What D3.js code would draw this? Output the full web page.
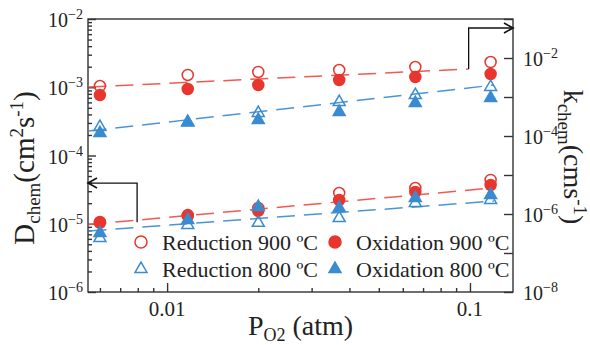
<!DOCTYPE html>
<html>
<head>
<meta charset="utf-8">
<script src="https://cdn.jsdelivr.net/npm/d3@7"></script>
<style>
  body { margin: 0; background: #fff; }
  .axis path, .axis line { stroke: #333; stroke-width: 1.4; }
  text, tspan { font-family: 'Liberation Serif', 'Times New Roman', Times, serif; }
</style>
</head>
<body>
<svg id="chart" width="590" height="345"></svg>
<script>
// oxygen partial pressure (atm)
var pO2 = [0.006, 0.0117, 0.02, 0.037, 0.066, 0.117];

// k_chem (cm s-1), right axis
var kRed900 = [1.91e-3, 3.67e-3, 4.38e-3, 4.92e-3, 5.88e-3, 7.88e-3];
var kOx900  = [1.12e-3, 1.60e-3, 2.03e-3, 2.73e-3, 3.26e-3, 3.89e-3];
var kRed800 = [1.70e-4, 2.29e-4, 3.89e-4, 7.45e-4, 1.12e-3, 1.80e-3];
var kOx800  = [1.19e-4, 2.20e-4, 2.57e-4, 4.12e-4, 7.02e-4, 9.42e-4];

// D_chem (cm2 s-1), left axis
var dRed900 = [1.06e-5, 1.34e-5, 1.70e-5, 2.82e-5, 3.34e-5, 4.38e-5];
var dOx900  = [1.03e-5, 1.30e-5, 1.54e-5, 2.23e-5, 2.92e-5, 3.70e-5];
var dRed800 = [6.18e-6, 9.60e-6, 1.03e-5, 1.21e-5, 2.01e-5, 2.23e-5];
var dOx800  = [7.31e-6, 1.13e-5, 1.76e-5, 1.70e-5, 2.38e-5, 2.64e-5];

// dashed fit lines (end points)
var fitK900P = [0.0055, 0.099], fitK900 = [1.80e-3, 5.22e-3];
var fitK800P = [0.0055, 0.12],  fitK800 = [1.34e-4, 2.03e-3];
var fitD900P = [0.0055, 0.122], fitD900 = [9.75e-6, 3.38e-5];
var fitD800P = [0.0055, 0.12],  fitD800 = [7.83e-6, 2.15e-5];

// axis ticks
var xMajor = [0.01, 0.1], xMajorLabels = ["0.01", "0.1"];
var yLeftExp = [-2, -3, -4, -5, -6];
var yRightExp = [-1, -2, -3, -4, -5, -6, -7, -8];
var yRightLabelExp = [-2, -4, -6, -8];

var legendLabels = ["Reduction 900 \u00baC", "Oxidation 900 \u00baC", "Reduction 800 \u00baC", "Oxidation 800 \u00baC"];

var red = "#e8362e", blue = "#3a8bd0", redLine = "#ef5b52", blueLine = "#4a95d3";
var serifFont = "'Liberation Serif'";

var svg = d3.select("#chart"),
	margin = {top: 19, right: 77, bottom: 53, left: 88},
	width = +svg.attr("width") - margin.left - margin.right,
	height = +svg.attr("height") - margin.top - margin.bottom,
	g = svg.append("g").attr("transform", "translate(" + margin.left + "," + margin.top + ")");

var x = d3.scaleLog().domain([0.00548, 0.1387]).range([0, width]);
var yL = d3.scaleLog().domain([1e-6, 1e-2]).range([height, 0]);
var yR = d3.scaleLog().domain([1e-8, 1e-1]).range([height, 0]);

// minor ticks
var xMinor = [];
[0.001, 0.01, 0.1].forEach(function(b) {
	for (var m = 2; m <= 9; m++) {
		var v = b * m;
		if (v > x.domain()[0] && v < x.domain()[1]) xMinor.push(v);
	}
});
var yLMinor = [];
[1e-6, 1e-5, 1e-4, 1e-3].forEach(function(b) {
	for (var m = 2; m <= 9; m++) yLMinor.push(b * m);
});

// frame
g.append("rect")
	.attr("width", width).attr("height", height)
	.attr("fill", "none").attr("stroke", "#333").attr("stroke-width", 1.4);

g.append("g").attr("class", "axis")
	.attr("transform", "translate(0," + height + ")")
	.call(d3.axisBottom(x).tickValues(xMajor).tickSize(-9).tickFormat(""));
g.append("g").attr("class", "axis")
	.attr("transform", "translate(0," + height + ")")
	.call(d3.axisBottom(x).tickValues(xMinor).tickSize(-4).tickFormat(""));
g.append("g").attr("class", "axis")
	.call(d3.axisLeft(yL).tickValues(yLeftExp.map(function(e) { return Math.pow(10, e); })).tickSize(-8).tickFormat(""));
g.append("g").attr("class", "axis")
	.call(d3.axisLeft(yL).tickValues(yLMinor).tickSize(-4).tickFormat(""));
g.append("g").attr("class", "axis")
	.attr("transform", "translate(" + width + ",0)")
	.call(d3.axisRight(yR).tickValues(yRightExp.map(function(e) { return Math.pow(10, e); })).tickSize(-9).tickFormat(""));
g.selectAll(".axis .domain").remove();
g.selectAll(".axis text").remove();

function addText(parent) {
	return parent.append("text")
		.attr("font-family", serifFont)
		.attr("fill", "#222");
}

// tick labels
function powLabel(sel, e) {
	sel.append("tspan").text("10");
	sel.append("tspan").attr("dy", -8).attr("font-size", 14).text("\u2212" + Math.abs(e));
}
yLeftExp.forEach(function(e) {
	var t = addText(g)
		.attr("x", -5).attr("y", yL(Math.pow(10, e)) + 8)
		.attr("text-anchor", "end").attr("font-size", 20);
	powLabel(t, e);
});
yRightLabelExp.forEach(function(e) {
	var t = addText(g)
		.attr("x", width + 10).attr("y", yR(Math.pow(10, e)) + 8)
		.attr("font-size", 20);
	powLabel(t, e);
});
xMajor.forEach(function(v, i) {
	addText(g)
		.attr("x", x(v)).attr("y", height + 24)
		.attr("text-anchor", "middle").attr("font-size", 21)
		.text(xMajorLabels[i]);
});

// axis titles
var tx = addText(g)
	.attr("x", x(Math.sqrt(x.domain()[0] * x.domain()[1]))).attr("y", height + 43)
	.attr("text-anchor", "middle").attr("font-size", 28);
tx.append("tspan").text("P");
tx.append("tspan").attr("font-size", 18).attr("dy", 6).text("O2");
tx.append("tspan").attr("dy", -6).text(" (atm)");

var tl = addText(svg)
	.attr("transform", "translate(34,168) rotate(-90)")
	.attr("text-anchor", "middle").attr("font-size", 29);
tl.append("tspan").text("D");
tl.append("tspan").attr("font-size", 19).attr("dy", 6).text("chem");
tl.append("tspan").attr("dy", -6).text("(cm");
tl.append("tspan").attr("font-size", 19).attr("dy", -11).text("2");
tl.append("tspan").attr("dy", 11).text("s");
tl.append("tspan").attr("font-size", 19).attr("dy", -11).text("-1");
tl.append("tspan").attr("dy", 11).text(")");

var tr = addText(svg)
	.attr("transform", "translate(564,157) rotate(90)")
	.attr("text-anchor", "middle").attr("font-size", 28);
tr.append("tspan").text("k");
tr.append("tspan").attr("font-size", 19).attr("dy", 6).text("chem");
tr.append("tspan").attr("dy", -6).text("(cms");
tr.append("tspan").attr("font-size", 19).attr("dy", -10).text("-1");
tr.append("tspan").attr("dy", 10).text(")");

// fit lines
function fit(ps, vs, y, color) {
	var pts = ps.map(function(p, i) { return [p, vs[i]]; });
	g.append("path")
		.attr("d", d3.line().x(function(d) { return x(d[0]); }).y(function(d) { return y(d[1]); })(pts))
		.attr("fill", "none").attr("stroke", color).attr("stroke-width", 1.5)
		.attr("stroke-dasharray", "18,9");
}
fit(fitK900P, fitK900, yR, redLine);
fit(fitK800P, fitK800, yR, blueLine);
fit(fitD900P, fitD900, yL, redLine);
fit(fitD800P, fitD800, yL, blueLine);

// arrows
svg.append("defs").append("marker")
	.attr("id", "head").attr("viewBox", "-10 -6 12 12")
	.attr("markerWidth", 12).attr("markerHeight", 12).attr("markerUnits", "userSpaceOnUse")
	.attr("orient", "auto")
	.append("path").attr("d", "M-9,-5L0,0L-9,5")
	.attr("fill", "none").attr("stroke", "#111").attr("stroke-width", 1.6);

var arrowLine = d3.line().x(function(d) { return x(d[0]); }).y(function(d) { return d[2](d[1]); });
g.append("path")
	.attr("d", arrowLine([[0.099, 5.22e-3, yR], [0.099, 0.0588, yR], [0.1387, 0.0588, yR]]))
	.attr("fill", "none").attr("stroke", "#111").attr("stroke-width", 1.3)
	.attr("marker-end", "url(#head)");
g.append("path")
	.attr("d", arrowLine([[0.00796, 1.05e-5, yL], [0.00796, 3.95e-5, yL], [0.00548, 3.95e-5, yL]]))
	.attr("fill", "none").attr("stroke", "#111").attr("stroke-width", 1.3)
	.attr("marker-end", "url(#head)");

// markers
var tri = d3.symbol().type(d3.symbolTriangle).size(62);
function circles(vals, y, filled) {
	g.append("g").selectAll("circle")
		.data(vals).enter().append("circle")
		.attr("cx", function(d, i) { return x(pO2[i]); })
		.attr("cy", function(d) { return y(d); })
		.attr("r", 5.5)
		.attr("fill", filled ? red : "none")
		.attr("stroke", red).attr("stroke-width", 1.5);
}
function triangles(vals, y, filled) {
	g.append("g").selectAll("path")
		.data(vals).enter().append("path")
		.attr("d", tri)
		.attr("transform", function(d, i) { return "translate(" + x(pO2[i]) + "," + y(d) + ")"; })
		.attr("fill", filled ? blue : "none")
		.attr("stroke", blue).attr("stroke-width", 1.5);
}
circles(kRed900, yR, false);
circles(kOx900, yR, true);
triangles(kRed800, yR, false);
triangles(kOx800, yR, true);
circles(dRed900, yL, false);
circles(dOx900, yL, true);
triangles(dRed800, yL, false);
triangles(dOx800, yL, true);

// legend
var legPos = [[141, 242], [335, 242], [141, 269], [335, 269]];
legendLabels.forEach(function(lab, i) {
	var p = legPos[i], filled = i % 2 === 1, isCircle = i < 2;
	if (isCircle) {
		svg.append("circle").attr("cx", p[0]).attr("cy", p[1]).attr("r", 6)
			.attr("fill", filled ? red : "none").attr("stroke", red).attr("stroke-width", 1.5);
	} else {
		svg.append("path").attr("d", tri)
			.attr("transform", "translate(" + p[0] + "," + p[1] + ")")
			.attr("fill", filled ? blue : "none").attr("stroke", blue).attr("stroke-width", 1.5);
	}
	addText(svg)
		.attr("x", p[0] + 21).attr("y", p[1] + 8)
		.attr("font-size", 22)
		.text(lab);
});
</script>
</body>
</html>
